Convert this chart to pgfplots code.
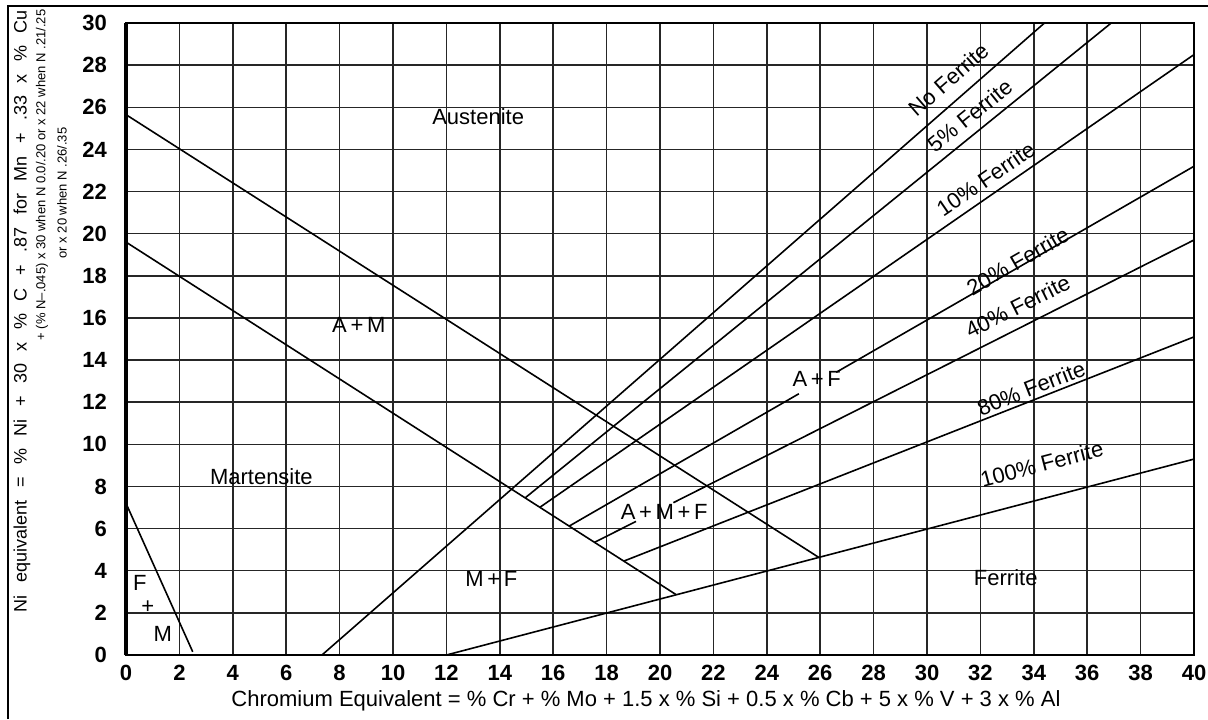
\documentclass[border=0pt]{standalone}
\usepackage{fontspec}
\setmainfont{Liberation Sans}
\usepackage{pgfplots}
\pgfplotsset{compat=1.18}
\begin{document}
\begin{tikzpicture}[x=1pt,y=1pt]
\path[use as bounding box] (0,0) rectangle (604,359.5);
% outer frame
\draw[line width=0.9pt] (4,0) -- (4,356.5) -- (604,356.5);
\begin{axis}[
  at={(63pt,32pt)}, anchor=south west,
  scale only axis, width=534pt, height=316pt,
  xmin=0, xmax=40, ymin=0, ymax=30,
  xtick={0,2,...,40}, ytick={0,2,...,30},
  grid=major,
  grid style={line width=0.75pt, black!85},
  major tick length=0pt,
  axis line style={line width=0.8pt},
  extra x ticks={0}, extra x tick labels={},
  extra x tick style={grid style={line width=1.6pt, black}},
  ticklabel style={font=\bfseries\fontsize{11}{11}\selectfont},
  /pgf/number format/assume math mode=true,
  xticklabel style={yshift=-1.5pt},
  yticklabel style={xshift=-6pt},
  clip=false,
  phase/.style={black, line width=0.8pt, mark=none},
]
% phase boundaries
\addplot[phase] coordinates {(0,7.2) (2.5,0.15)};
\addplot[phase] coordinates {(0,25.65) (25.95,4.63)};
\addplot[phase] coordinates {(0,19.6) (20.61,2.86)};
\addplot[phase] coordinates {(12,0) (40,9.3)};
% ferrite iso-lines
\addplot[phase] coordinates {(7.34,0) (34.4,30)};
\addplot[phase] coordinates {(14.95,7.46) (36.9,30)};
\addplot[phase] coordinates {(15.5,7.01) (40,28.5)};
\addplot[phase] coordinates {(16.6,6.12) (25.2,12.4)};
\addplot[phase] coordinates {(26.6,13.42) (40,23.2)};
\addplot[phase] coordinates {(17.55,5.35) (19.1,6.34)};
\addplot[phase] coordinates {(20.5,7.23) (40,19.7)};
\addplot[phase] coordinates {(18.65,4.46) (40,15.1)};
% region names
\begin{scope}[every node/.style={font=\fontsize{11}{11}\selectfont, inner sep=1pt}]
\node at (axis cs:13.19,25.55) {Austenite};
\node at (axis cs:8.72,15.66) {A\,+\,M};
\node at (axis cs:5.07,8.45) {Martensite};
\node at (axis cs:13.68,3.6) {M\,+\,F};
\node at (axis cs:32.95,3.65) {Ferrite};
\node at (axis cs:25.87,13.1) {A\,+\,F};
\node at (axis cs:20.16,6.79) {A\,+\,M\,+\,F};
\node at (axis cs:0.52,3.42) {F};
\node at (axis cs:0.82,2.28) {+};
\node at (axis cs:1.38,1.0) {M};
\node[rotate=41.05] at (axis cs:30.8,27.3) {No Ferrite};
\node[rotate=38.9] at (axis cs:31.6,25.6) {5\% Ferrite};
\node[rotate=34.6] at (axis cs:32.2,22.6) {10\% Ferrite};
\node[rotate=29.8] at (axis cs:33.4,18.7) {20\% Ferrite};
\node[rotate=26.6] at (axis cs:33.4,16.56) {40\% Ferrite};
\node[rotate=21.4] at (axis cs:33.9,12.67) {80\% Ferrite};
\node[rotate=14.6] at (axis cs:34.3,9.07) {100\% Ferrite};
\end{scope}
\end{axis}
% axis titles
\node[font=\fontsize{11}{11}\selectfont] at (323,9) {Chromium Equivalent = \% Cr + \% Mo + 1.5 x \% Si + 0.5 x \% Cb + 5 x \% V + 3 x \% Al};
\node[rotate=90, font=\fontsize{9}{9}\selectfont, inner sep=0pt] at (11,204) {\makebox[301pt][s]{Ni equivalent = \% Ni + 30 x \% C + .87 for Mn + .33 x \% Cu}};
\node[rotate=90, font=\fontsize{6.5}{8}\selectfont, inner sep=0pt] at (21,272) {+ (\% N–.045) x 30 when N 0.0/.20 or x 22 when N .21/.25};
\node[rotate=90, font=\fontsize{6.5}{8}\selectfont, inner sep=0pt] at (31,263) {or x 20 when N .26/.35};
\end{tikzpicture}
\end{document}
